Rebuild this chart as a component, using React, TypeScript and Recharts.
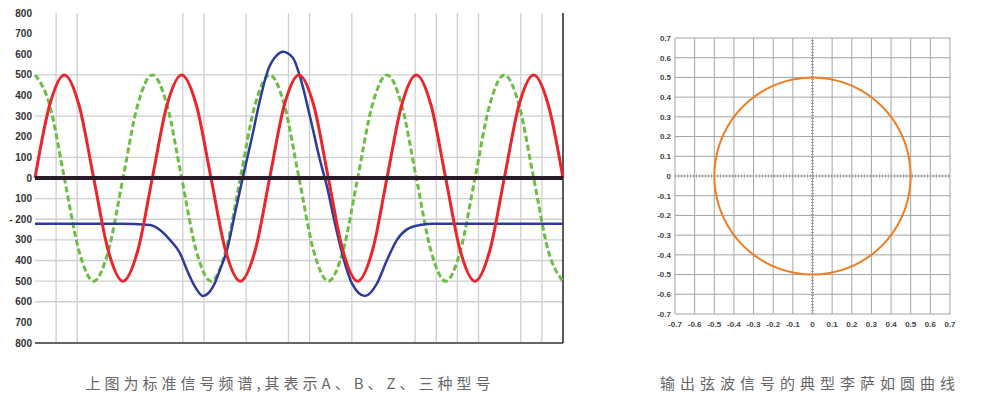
import { LineChart, Line, XAxis, YAxis, CartesianGrid, ReferenceLine } from 'recharts';

// left chart: x in 1/8-period steps, 4.5 periods shown
const stepX = [0, 1, 2, 3, 4, 5, 6, 7, 8, 9, 10, 11, 12, 13, 14, 15, 16, 17, 18, 19, 20, 21, 22, 23, 24, 25, 26, 27, 28, 29, 30, 31, 32, 33, 34, 35, 36];
const redValues = [0, 354, 500, 354, 0, -354, -500, -354, 0, 354, 500, 354, 0, -354, -500, -354, 0, 354, 500, 354, 0, -354, -500, -354, 0, 354, 500, 354, 0, -354, -500, -354, 0, 354, 500, 354, 0];
const greenValues = [500, 354, 0, -354, -500, -354, 0, 354, 500, 354, 0, -354, -500, -354, 0, 354, 500, 354, 0, -354, -500, -354, 0, 354, 500, 354, 0, -354, -500, -354, 0, 354, 500, 354, 0, -354, -500];

const blueX = [0, 5.8, 7.84, 8.52, 9.2, 9.89, 10.36, 10.91, 11.45, 12.14, 12.61, 13.09, 13.64, 14.18, 14.8, 15.34, 15.89, 16.5, 16.91, 17.59, 18.07, 18.75, 19.43, 19.91, 20.45, 21.0, 21.61, 22.5, 23.32, 24.0, 24.68, 25.36, 26.25, 27.14, 36];
const blueValues = [-222, -222, -228, -252, -300, -365, -446, -527, -572, -527, -446, -349, -170, 6, 200, 378, 524, 596, 612, 582, 491, 297, 87, -42, -220, -381, -511, -572, -511, -398, -300, -249, -228, -222, -222];

const leftTicks = [800, 700, 600, 500, 400, 300, 200, 100, 0, -100, -200, -300, -400, -500, -600, -700, -800];
const leftGridY = [500, 300, 100, -100, -200, -300, -400, -500, -600];
const leftGridX = [1.44, 2.88, 10.08, 11.52, 14.4, 17.28, 18.72, 21.6, 25.92, 27.36, 28.8, 30.24, 33.12, 34.56];

// right chart: Lissajous circle, radius 0.5, every 10 degrees
const circleX = [0.5, 0.492, 0.47, 0.433, 0.383, 0.321, 0.25, 0.171, 0.087, 0, -0.087, -0.171, -0.25, -0.321, -0.383, -0.433, -0.47, -0.492, -0.5, -0.492, -0.47, -0.433, -0.383, -0.321, -0.25, -0.171, -0.087, 0, 0.087, 0.171, 0.25, 0.321, 0.383, 0.433, 0.47, 0.492, 0.5];
const circleY = [0, 0.087, 0.171, 0.25, 0.321, 0.383, 0.433, 0.47, 0.492, 0.5, 0.492, 0.47, 0.433, 0.383, 0.321, 0.25, 0.171, 0.087, 0, -0.087, -0.171, -0.25, -0.321, -0.383, -0.433, -0.47, -0.492, -0.5, -0.492, -0.47, -0.433, -0.383, -0.321, -0.25, -0.171, -0.087, 0];
const rightTicks = [-0.7, -0.6, -0.5, -0.4, -0.3, -0.2, -0.1, 0, 0.1, 0.2, 0.3, 0.4, 0.5, 0.6, 0.7];

const leftCaption = '上图为标准信号频谱,其表示A、B、Z、三种型号';
const rightCaption = '输出弦波信号的典型李萨如圆曲线';

const redData = stepX.map((x, i) => ({ x, v: redValues[i] }));
const greenData = stepX.map((x, i) => ({ x, v: greenValues[i] }));
const blueData = blueX.map((x, i) => ({ x, v: blueValues[i] }));
const circleData = circleX.map((x, i) => ({ x, y: circleY[i] }));

const fmtLeft = (v: number) => (v === -200 ? '- 200' : String(Math.abs(v)));
const fmtRight = (v: number) => (v === 0 ? '0' : v.toFixed(1));

function App() {
  return (
    <div style={{ position: 'fixed', left: 0, top: 0, width: 1000, height: 401, background: '#fff', overflow: 'hidden' }}>
      <div style={{ position: 'absolute', left: 0, top: 0 }}>
        <LineChart width={580} height={360} margin={{ top: 13, right: 17, bottom: 17, left: 0 }}>
          <XAxis type="number" dataKey="x" domain={[0, 36]} hide />
          <YAxis
            type="number"
            domain={[-800, 800]}
            ticks={leftTicks}
            interval={0}
            width={35}
            axisLine={false}
            tickLine={false}
            tickSize={0}
            tickMargin={3}
            tickFormatter={fmtLeft}
            tick={{ fill: '#333', fontSize: 10, fontWeight: 'bold', fontFamily: 'Liberation Sans' }}
          />
          {leftGridY.map((y) => (
            <ReferenceLine key={'gy' + y} y={y} stroke="#cfcfcf" strokeWidth={1.3} />
          ))}
          {leftGridX.map((x) => (
            <ReferenceLine key={'gx' + x} x={x} stroke="#cfcfcf" strokeWidth={1.3} />
          ))}
          <ReferenceLine y={-800} stroke="#333" strokeWidth={1.5} />
          <ReferenceLine x={36} stroke="#222" strokeWidth={1.5} />
          <Line data={greenData} dataKey="v" type="monotone" stroke="#6dbd45" strokeWidth={3} strokeDasharray="6 3" dot={false} isAnimationActive={false} />
          <Line data={blueData} dataKey="v" type="monotone" stroke="#2b3c9b" strokeWidth={2.5} dot={false} isAnimationActive={false} />
          <Line data={redData} dataKey="v" type="monotone" stroke="#e8262b" strokeWidth={3} dot={false} isAnimationActive={false} />
          <ReferenceLine y={0} stroke="#2a1b28" strokeWidth={4} />
        </LineChart>
      </div>

      <div style={{ position: 'absolute', left: 630, top: 0 }}>
        <LineChart width={340} height={360} data={circleData} margin={{ top: 38, right: 20, bottom: 26, left: 0 }}>
          <CartesianGrid stroke="#a3a3a3" strokeWidth={1} />
          <XAxis
            type="number"
            dataKey="x"
            domain={[-0.7, 0.7]}
            ticks={rightTicks}
            interval={0}
            height={20}
            axisLine={false}
            tickLine={false}
            tickSize={0}
            tickMargin={7}
            tickFormatter={fmtRight}
            tick={{ fill: '#444', fontSize: 8, fontWeight: 'bold', fontFamily: 'Liberation Sans' }}
          />
          <YAxis
            type="number"
            domain={[-0.7, 0.7]}
            ticks={rightTicks}
            interval={0}
            width={45}
            axisLine={false}
            tickLine={false}
            tickSize={0}
            tickMargin={4}
            tickFormatter={fmtRight}
            tick={{ fill: '#444', fontSize: 8, fontWeight: 'bold', fontFamily: 'Liberation Sans' }}
          />
          <ReferenceLine x={0} stroke="#a0a0a0" strokeWidth={3} strokeDasharray="1 2" />
          <ReferenceLine y={0} stroke="#a0a0a0" strokeWidth={3} strokeDasharray="1 2" />
          <Line dataKey="y" type="natural" stroke="#f07d22" strokeWidth={2} dot={false} isAnimationActive={false} />
        </LineChart>
      </div>

      <div style={{ position: 'absolute', left: 40, width: 500, top: 373, textAlign: 'center', fontFamily: 'Noto Sans CJK SC', fontSize: 15, lineHeight: '20px', color: '#666', letterSpacing: 4 }}>
        {leftCaption}
      </div>
      <div style={{ position: 'absolute', left: 610, width: 400, top: 373, textAlign: 'center', fontFamily: 'Noto Sans CJK SC', fontSize: 15, lineHeight: '20px', color: '#666', letterSpacing: 5 }}>
        {rightCaption}
      </div>
    </div>
  );
}

export default App;
